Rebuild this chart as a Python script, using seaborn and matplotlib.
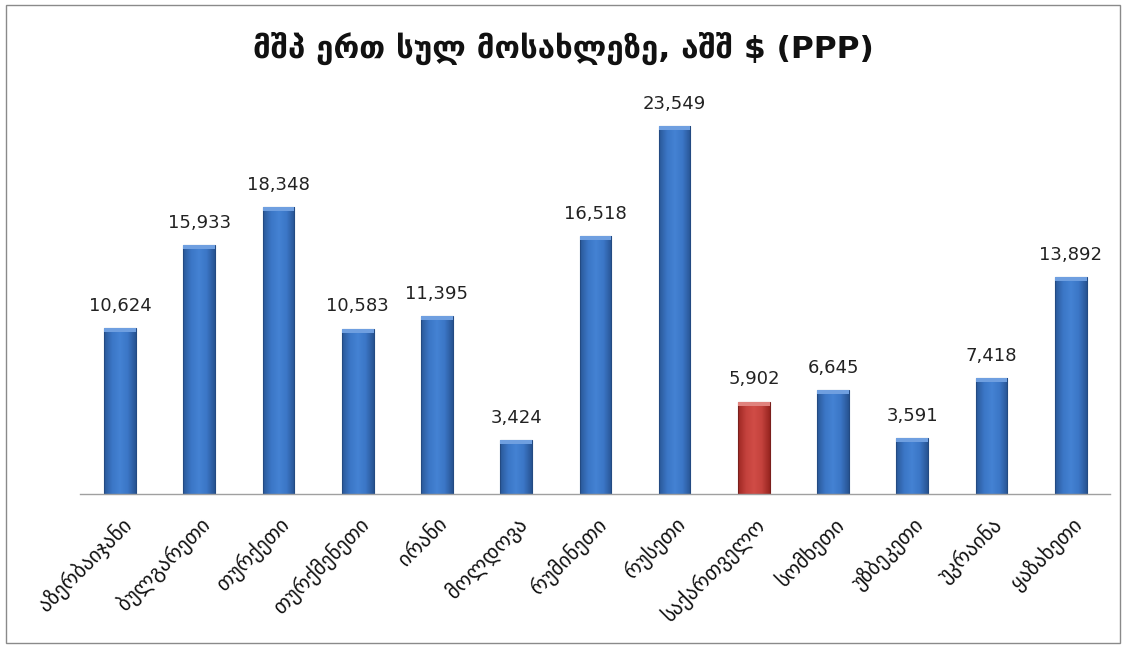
import numpy as np
import pandas as pd
import matplotlib
matplotlib.use("Agg")
import matplotlib.pyplot as plt
import seaborn as sns
from matplotlib.patches import Rectangle

# data
countries = ["აზერბაიჯანი", "ბულგარეთი", "თურქეთი", "თურქმენეთი", "ირანი",
             "მოლდოვა", "რუმინეთი", "რუსეთი", "საქართველო", "სომხეთი",
             "უზბეკეთი", "უკრაინა", "ყაზახეთი"]
gdp_pc = [10624, 15933, 18348, 10583, 11395, 3424, 16518, 23549,
          5902, 6645, 3591, 7418, 13892]
highlight = "საქართველო"
title = "მშპ ერთ სულ მოსახლეზე, აშშ $ (PPP)"

df = pd.DataFrame({"country": countries, "value": gdp_pc})
df["grp"] = np.where(df["country"] == highlight, "ge", "other")

sns.set_theme(style="white")
plt.rcParams["font.family"] = ["DejaVu Sans"]

fig = plt.figure(figsize=(11.26, 6.48), dpi=100)
ax = fig.add_axes([0.0714, 0.2377, 0.9147, 0.651])

sns.barplot(data=df, x="country", y="value", hue="grp",
            palette={"other": "#3e7acb", "ge": "#c8453f"},
            width=0.4, dodge=False, legend=False, ax=ax)

# gradient shading for the bevelled look
blue_cmap = matplotlib.colors.LinearSegmentedColormap.from_list(
    "b", ["#2a5898", "#3b76c6", "#4482d3", "#3b76c6", "#285493"])
red_cmap = matplotlib.colors.LinearSegmentedColormap.from_list(
    "r", ["#9e2823", "#c4423d", "#d04c46", "#c4423d", "#982520"])
grad = np.linspace(0, 1, 64).reshape(1, -1)
for bar in ax.patches:
    x0, y0 = bar.get_x(), bar.get_y()
    w, h = bar.get_width(), bar.get_height()
    if h <= 0:
        continue
    fc = bar.get_facecolor()
    is_red = fc[0] > fc[2]
    cmap = red_cmap if is_red else blue_cmap
    img = ax.imshow(grad, cmap=cmap, aspect="auto",
                    extent=[x0, x0 + w, y0, y0 + h], zorder=bar.get_zorder())
    img.set_clip_path(bar)
    bar.set_edgecolor("#7a1f1c" if is_red else "#234a82")
    bar.set_linewidth(0.8)
    bar.set_zorder(bar.get_zorder() + 0.1)
    bar.set_facecolor("none")
    # lighter top cap
    ax.add_patch(Rectangle((x0, y0 + h - 250), w, 250,
                           facecolor="#e0837e" if is_red else "#6f9fe0",
                           edgecolor="none", zorder=bar.get_zorder()))

for i, v in enumerate(gdp_pc):
    ax.text(i, v + 850, f"{v:,}", ha="center", va="bottom", fontsize=13,
            color="#222222")

ax.set_xlim(-0.5, len(countries) - 0.5)
ax.set_ylim(0, 27000)
ax.set_yticks([])
ax.set_xlabel("")
ax.set_ylabel("")
for s in ["top", "right", "left"]:
    ax.spines[s].set_visible(False)
ax.spines["bottom"].set_color("#a0a0a0")
ax.spines["bottom"].set_linewidth(1.0)
ax.tick_params(axis="x", length=0, pad=14)
ax.set_xticks(range(len(countries)))
ax.set_xticklabels(countries, rotation=45, ha="right", rotation_mode="anchor",
                   fontsize=15, color="#111111")

fig.text(0.5, 0.925, title, ha="center", va="center", fontsize=22.5,
         fontweight="bold", color="#111111")

fig.patches.append(Rectangle((0.005, 0.008), 0.99, 0.984, transform=fig.transFigure,
                             fill=False, edgecolor="#8a8a8a", linewidth=1.0))

fig.savefig("out.png", dpi=100)
